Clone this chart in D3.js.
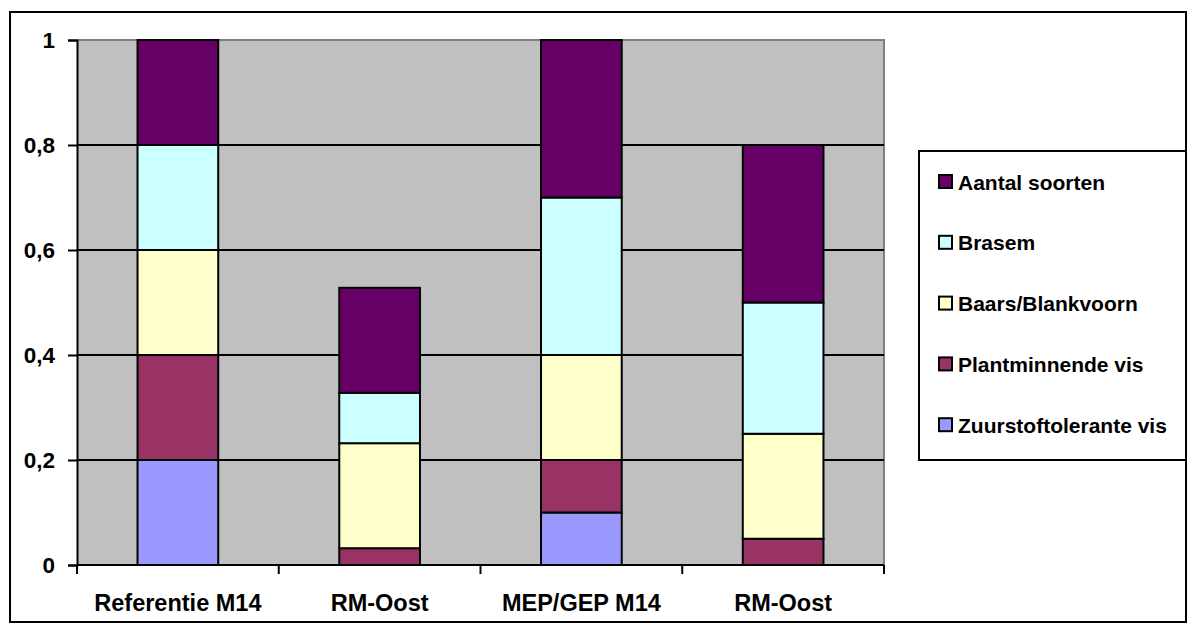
<!DOCTYPE html>
<html><head><meta charset="utf-8">
<script src="https://cdn.jsdelivr.net/npm/d3@7"></script>
<style>body{margin:0;background:#fff}svg{display:block}text{font-family:"Liberation Sans",Arial,sans-serif;font-weight:bold;fill:#000}</style>
</head><body>
<script>
const categories = ["Referentie M14", "RM-Oost", "MEP/GEP M14", "RM-Oost"];
const seriesNames = ["Zuurstoftolerante vis", "Plantminnende vis", "Baars/Blankvoorn", "Brasem", "Aantal soorten"];
const zuurstoftolerante = [0.2, 0, 0.1, 0];
const plantminnende = [0.2, 0.032, 0.1, 0.05];
const baarsBlankvoorn = [0.2, 0.2, 0.2, 0.2];
const brasem = [0.2, 0.096, 0.3, 0.25];
const aantalSoorten = [0.2, 0.2, 0.3, 0.3];
const colors = ["#9999FF", "#993366", "#FFFFCC", "#CCFFFF", "#660066"];
const yTicks = [0, 0.2, 0.4, 0.6, 0.8, 1];
const yTickLabels = ["0", "0,2", "0,4", "0,6", "0,8", "1"];

const W = 1199, H = 634;
const svg = d3.select("body").append("svg").attr("width", W).attr("height", H);
svg.append("rect").attr("x", 10).attr("y", 12).attr("width", 1176).attr("height", 610)
  .attr("fill", "#fff").attr("stroke", "#000").attr("stroke-width", 2);

const L = 77, R = 884, T = 40, B = 565;
const x = d3.scaleBand().domain(d3.range(categories.length)).range([L, R]).paddingInner(0.6).paddingOuter(0.3);
const xb = d3.scaleBand().domain(d3.range(categories.length)).range([L, R]);
const y = d3.scaleLinear().domain([0, 1]).range([B, T]);

svg.append("rect").attr("x", L).attr("y", T).attr("width", R - L).attr("height", B - T).attr("fill", "#C0C0C0");
svg.append("path").attr("d", `M${L},${T}H${R}V${B}`).attr("fill", "none").attr("stroke", "#808080").attr("stroke-width", 2);

// gridlines
svg.append("g").selectAll("line").data(yTicks.filter(v => v > 0 && v < 1)).join("line")
  .attr("x1", L).attr("x2", R).attr("y1", d => y(d)).attr("y2", d => y(d))
  .attr("stroke", "#000").attr("stroke-width", 2);

// stack
const table = categories.map((c, i) => ({i, s0: zuurstoftolerante[i], s1: plantminnende[i], s2: baarsBlankvoorn[i], s3: brasem[i], s4: aantalSoorten[i]}));
const stack = d3.stack().keys(["s0", "s1", "s2", "s3", "s4"])(table);
stack.forEach((layer, k) => {
  svg.append("g").selectAll("rect").data(layer.filter(d => d[1] - d[0] > 0)).join("rect")
    .attr("x", d => x(d.data.i)).attr("width", x.bandwidth())
    .attr("y", d => y(d[1])).attr("height", d => y(d[0]) - y(d[1]))
    .attr("fill", colors[k]).attr("stroke", "#000").attr("stroke-width", 2);
});

// y axis
const yAxis = d3.axisLeft(y).tickValues(yTicks).tickFormat((d, i) => yTickLabels[i]).tickSize(9).tickPadding(13);
const ga = svg.append("g").attr("transform", `translate(${L},0)`).call(yAxis);
ga.select(".domain").attr("stroke", "#000").attr("stroke-width", 2);
ga.selectAll(".tick line").attr("stroke", "#000").attr("stroke-width", 2);
ga.selectAll("text").style("font-size", "22.5px").style("font-family", "Liberation Sans, Arial, sans-serif").style("font-weight", "bold").attr("fill", "#000");

// x axis
const gx = svg.append("g").attr("transform", `translate(0,${B})`);
gx.append("line").attr("x1", L).attr("x2", R).attr("stroke", "#000").attr("stroke-width", 2);
gx.selectAll("line.t").data(d3.range(categories.length + 1)).join("line").attr("class", "t")
  .attr("x1", d => d < categories.length ? xb(d) : R).attr("x2", d => d < categories.length ? xb(d) : R)
  .attr("y1", 0).attr("y2", 9).attr("stroke", "#000").attr("stroke-width", 2);
gx.selectAll("text").data(categories).join("text")
  .attr("x", (d, i) => xb(i) + xb.bandwidth() / 2).attr("y", 46)
  .attr("text-anchor", "middle").style("font-size", "23.5px").text(d => d);

// legend
const lg = svg.append("g");
lg.append("rect").attr("x", 919).attr("y", 151).attr("width", 267).attr("height", 309)
  .attr("fill", "#fff").attr("stroke", "#000").attr("stroke-width", 2);
const legendOrder = [4, 3, 2, 1, 0];
legendOrder.forEach((k, j) => {
  const cy = 182 + j * 60.8;
  lg.append("rect").attr("x", 939).attr("y", cy - 7).attr("width", 13).attr("height", 13)
    .attr("fill", colors[k]).attr("stroke", "#000").attr("stroke-width", 2);
  lg.append("text").attr("x", 958).attr("y", cy + 7.5).style("font-size", "21px").text(seriesNames[k]);
});
</script>
</body></html>
